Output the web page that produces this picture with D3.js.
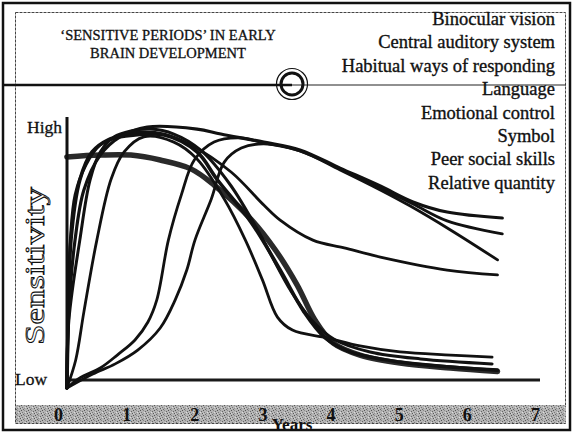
<!DOCTYPE html>
<html><head><meta charset="utf-8">
<script src="https://cdn.jsdelivr.net/npm/d3@7/dist/d3.min.js"></script>
<style>
html,body{margin:0;padding:0;background:#fff;}
svg{display:block;}
text{font-family:"Liberation Serif","Times New Roman",serif;fill:#111;}
</style></head>
<body><svg id="c" width="573" height="433"></svg>
<script>
// ---- data ----
const yearTicks = [0,1,2,3,4,5,6,7];
const levelNames = ["Low","High"];
const levelValues = [0,100];
const titleLines = ["\u2018SENSITIVE PERIODS\u2019 IN EARLY","BRAIN DEVELOPMENT"];
const legendNames = ["Binocular vision","Central auditory system","Habitual ways of responding","Language","Emotional control","Symbol","Peer social skills","Relative quantity"];

// [year, sensitivity 0..100]
const binocularVision = [[0.13,85.8],[0.62,86.5],[1.07,86.5],[1.50,84.6],[1.95,81.2],[2.29,75.0],[2.83,61.9],[3.19,50.0],[3.51,36.5],[3.77,23.1],[4.04,14.2],[4.43,9.6],[5.02,6.5],[5.76,4.6],[6.45,3.3]];
const centralAuditory = [[0.13,-3.1],[0.15,23.1],[0.19,53.8],[0.32,76.9],[0.50,87.7],[0.73,92.3],[0.97,93.8],[1.56,94.2],[2.04,87.7],[2.33,77.3],[2.83,60.8],[3.26,42.3],[3.61,26.2],[3.92,16.2],[4.29,10.8],[5.02,6.9],[5.76,5.0],[6.45,3.8]];
const habitualWays = [[0.13,-3.1],[0.16,23.1],[0.32,53.8],[0.47,76.9],[0.62,87.7],[0.82,93.5],[1.07,95.8],[1.35,96.5],[1.70,94.6],[2.09,88.5],[2.53,75.0],[2.97,55.8],[3.41,34.6],[3.72,23.1],[4.07,15.4],[4.58,10.8],[5.32,8.1],[6.37,6.2]];
const language = [[0.13,-3.1],[0.26,7.7],[0.38,26.2],[0.57,53.8],[0.78,77.3],[0.97,87.7],[1.26,93.5],[1.70,91.5],[2.04,85.0],[2.44,69.6],[2.75,53.8],[3.00,38.5],[3.22,24.2],[3.44,19.2],[3.95,16.2],[4.43,13.1],[5.02,10.8],[5.76,9.6],[6.37,8.8]];
const emotionalControl = [[0.13,-3.1],[0.15,30.8],[0.18,53.8],[0.25,71.2],[0.41,82.7],[0.62,90.4],[0.91,93.8],[1.22,95.4],[1.56,94.6],[1.95,90.4],[2.54,80.0],[3.02,67.3],[3.26,61.5],[3.74,53.8],[4.20,50.8],[4.73,47.3],[5.71,42.3],[6.45,40.4]];
const symbol = [[0.13,-3.1],[0.16,26.9],[0.25,53.8],[0.38,73.1],[0.62,86.5],[0.91,93.5],[1.31,97.3],[2.04,96.5],[2.39,94.6],[3.02,91.5],[3.55,88.5],[4.14,81.5],[4.73,74.6],[5.21,68.5],[5.71,64.6],[6.52,62.3]];
const peerSocialSkills = [[0.13,-3.1],[0.32,0.8],[0.62,4.6],[0.87,9.6],[1.13,15.4],[1.32,22.3],[1.45,30.8],[1.62,53.8],[1.81,71.2],[2.00,84.6],[2.29,91.5],[2.67,93.1],[3.02,91.2],[3.55,88.1],[4.14,81.2],[4.73,73.8],[5.21,67.7],[5.71,61.2],[6.52,56.2]];
const relativeQuantity = [[0.13,-3.1],[0.51,2.3],[0.84,6.2],[1.17,11.5],[1.50,20.0],[1.72,30.8],[1.89,42.3],[2.01,53.8],[2.25,69.6],[2.44,83.8],[2.69,89.2],[3.02,90.8],[3.55,88.1],[4.14,80.8],[4.73,73.1],[5.17,66.9],[5.76,57.7],[6.45,46.2]];

const curves = [
  {name:legendNames[0], data:binocularVision, w:5.5, c:"#2a2a2a"},
  {name:legendNames[1], data:centralAuditory, w:3.6, c:"#111"},
  {name:legendNames[2], data:habitualWays, w:3.0, c:"#111"},
  {name:legendNames[3], data:language, w:2.8, c:"#111"},
  {name:legendNames[4], data:emotionalControl, w:2.8, c:"#111"},
  {name:legendNames[5], data:symbol, w:3.2, c:"#111"},
  {name:legendNames[6], data:peerSocialSkills, w:2.8, c:"#111"},
  {name:legendNames[7], data:relativeQuantity, w:2.8, c:"#111"}
];

// ---- drawing ----
const svg = d3.select("#c");
const x = d3.scaleLinear().domain([0,7]).range([58,535]);
const y = d3.scaleLinear().domain([0,100]).range([380,120]);

// halftone texture for grey band (decorative)
const defs = svg.append("defs");
const pat = defs.append("pattern").attr("id","ht").attr("width",7).attr("height",5).attr("patternUnits","userSpaceOnUse");
pat.append("rect").attr("width",7).attr("height",5).attr("fill","#b4b4b4");
[[0,0,"#555"],[3,0,"#8a8a8a"],[5,1,"#666"],[1,2,"#777"],[4,2,"#dcdcdc"],[6,3,"#5a5a5a"],[2,4,"#6a6a6a"],[0,3,"#d0d0d0"],[3,3,"#909090"]]
  .forEach(p=>pat.append("rect").attr("x",p[0]).attr("y",p[1]).attr("width",1).attr("height",1).attr("fill",p[2]));

// frames
svg.append("rect").attr("x",3).attr("y",3).attr("width",567).attr("height",427)
  .attr("fill","none").attr("stroke","#111").attr("stroke-width",2.5);
svg.append("rect").attr("x",15.5).attr("y",12.5).attr("width",550).attr("height",411)
  .attr("fill","none").attr("stroke","#444").attr("stroke-width",1).attr("stroke-dasharray","3,1");

// grey band
svg.append("rect").attr("x",16).attr("y",405).attr("width",550).attr("height",18).attr("fill","url(#ht)");

// divider
svg.append("line").attr("x1",3).attr("x2",292).attr("y1",85).attr("y2",85).attr("stroke","#111").attr("stroke-width",2.5);
svg.append("line").attr("x1",292).attr("x2",566).attr("y1",85).attr("y2",85).attr("stroke","#222").attr("stroke-width",1.2);

// circle emblem
svg.append("circle").attr("cx",292).attr("cy",84).attr("r",15.5).attr("fill","none").attr("stroke","#111").attr("stroke-width",1.2);
svg.append("circle").attr("cx",292).attr("cy",84).attr("r",11).attr("fill","none").attr("stroke","#111").attr("stroke-width",3);

// title
svg.append("g").selectAll("text").data(titleLines).join("text")
  .attr("x",168).attr("y",(d,i)=>40+i*18).attr("text-anchor","middle")
  .attr("font-size",14.5).style("stroke","#111").style("stroke-width",0.3).text(d=>d);

// legend
svg.append("g").selectAll("text").data(legendNames).join("text")
  .attr("x",555).attr("y",(d,i)=>25+i*23.4).attr("text-anchor","end")
  .attr("font-size",18.5).style("stroke","#111").style("stroke-width",0.35).text(d=>d);

// axis baseline
svg.append("line").attr("x1",67).attr("x2",540).attr("y1",y(0)).attr("y2",y(0))
  .attr("stroke","#1a1a1a").attr("stroke-width",3);

// curves
const line = d3.line().x(d=>x(d[0])).y(d=>y(d[1])).curve(d3.curveCatmullRom.alpha(0.5));
svg.append("g").selectAll("path").data(curves).join("path")
  .attr("d",d=>line(d.data)).attr("fill","none")
  .attr("stroke",d=>d.c).attr("stroke-width",d=>d.w)
  .attr("stroke-linecap","round").attr("stroke-linejoin","round");

// y axis line
svg.append("line").attr("x1",67).attr("x2",67).attr("y1",117).attr("y2",389)
  .attr("stroke","#111").attr("stroke-width",3);

// level labels
svg.append("text").attr("x",62).attr("y",y(levelValues[1])+13).attr("text-anchor","end")
  .attr("font-size",17.5).style("stroke","#111").style("stroke-width",0.3).text(levelNames[1]);
svg.append("text").attr("x",15).attr("y",y(levelValues[0])+5).attr("text-anchor","start")
  .attr("font-size",17.5).style("stroke","#111").style("stroke-width",0.3).text(levelNames[0]);

// y title
svg.append("text").attr("transform","translate(44,266) rotate(-90)").attr("text-anchor","middle")
  .attr("font-size",28).attr("textLength",158).attr("lengthAdjust","spacingAndGlyphs")
  .style("fill","#fff").style("stroke","#111").style("stroke-width",0.9).text("Sensitivity");

// x axis labels
const xAxis = d3.axisBottom(x).tickValues(yearTicks).tickSize(0).tickPadding(0).tickFormat(d3.format("d"));
const gx = svg.append("g").attr("transform","translate(0,404)").call(xAxis);
gx.select(".domain").remove();
gx.selectAll("text").attr("dy","0.95em").attr("font-size",18).attr("font-weight","bold")
  .style("font-family","'Liberation Serif',serif").style("fill","#111");

// x title
svg.append("text").attr("x",292).attr("y",430).attr("text-anchor","middle")
  .attr("font-size",17).attr("font-weight","bold").text("Years");
</script></body></html>
